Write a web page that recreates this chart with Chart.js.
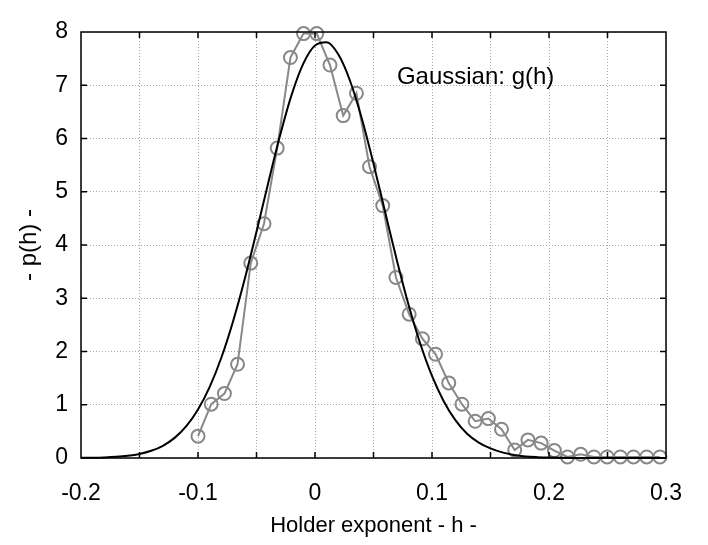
<!DOCTYPE html>
<html><head><meta charset="utf-8">
<script src="https://cdn.jsdelivr.net/npm/chart.js@4/dist/chart.umd.min.js"></script>
<style>html,body{margin:0;padding:0;background:#fff}#wrap{width:708px;height:545px;position:relative}</style>
</head><body><div id="wrap"><canvas id="c"></canvas></div>
<script>
// Empirical histogram p(h)
const hValues = [-0.1000,-0.0887,-0.0774,-0.0662,-0.0549,-0.0436,-0.0323,-0.0210,-0.0098,0.0015,
  0.0128,0.0241,0.0354,0.0466,0.0579,0.0692,0.0805,0.0918,0.1030,0.1143,
  0.1256,0.1369,0.1482,0.1594,0.1707,0.1820,0.1933,0.2046,0.2158,0.2271,
  0.2384,0.2497,0.2610,0.2722,0.2835,0.2948];
const pValues = [0.41,1.01,1.21,1.76,3.66,4.40,5.82,7.52,7.97,7.97,
  7.38,6.43,6.85,5.47,4.74,3.39,2.70,2.24,1.95,1.41,
  1.01,0.69,0.74,0.54,0.15,0.34,0.28,0.14,0.02,0.07,
  0.02,0.02,0.02,0.02,0.02,0.02];
// Gaussian curve g(h)
const gaussH = [-0.20,-0.19,-0.18,-0.17,-0.16,-0.15,-0.14,-0.13,-0.12,-0.11,
  -0.10,-0.09,-0.08,-0.07,-0.06,-0.05,-0.04,-0.03,-0.02,-0.01,
  0.00,0.01,0.02,0.03,0.04,0.05,0.06,0.07,0.08,0.09,
  0.10,0.11,0.12,0.13,0.14,0.15,0.16,0.17,0.18,0.19,
  0.20,0.21,0.22,0.23,0.24,0.25,0.26,0.27,0.28,0.29,0.30];
const gaussG = [0.003,0.005,0.011,0.022,0.042,0.076,0.135,0.230,0.378,0.598,
  0.911,1.336,1.887,2.569,3.366,4.249,5.165,6.047,6.820,7.407,
  7.748,7.807,7.576,7.080,6.374,5.527,4.614,3.711,2.875,2.145,
  1.541,1.067,0.711,0.456,0.290,0.180,0.105,0.058,0.030,0.016,
  0.008,0.003,0.001,0.001,0,0,0,0,0,0,0];
const xLabels = [-0.2,-0.1,0,0.1,0.2,0.3];
const yLabels = [0,1,2,3,4,5,6,7,8];
const annotationText = 'Gaussian: g(h)';
const xTitle = 'Holder exponent - h -';
const yTitle = '- p(h) -';

const FONT = "'Liberation Sans', Arial, Helvetica, sans-serif";
Chart.defaults.color = '#000';
Chart.defaults.font.family = FONT;

const framePlugin = {
  id: 'frame',
  afterDraw(chart) {
    const {ctx, chartArea: a, scales} = chart;
    ctx.save();
    ctx.strokeStyle = '#000';
    ctx.lineWidth = 1.5;
    ctx.setLineDash([]);
    const tl = 6;
    ctx.beginPath();
    scales.x.ticks.forEach(t => {
      const px = scales.x.getPixelForValue(t.value);
      if (px <= a.left + 1 || px >= a.right - 1) return;
      ctx.moveTo(px, a.bottom); ctx.lineTo(px, a.bottom - tl);
      ctx.moveTo(px, a.top); ctx.lineTo(px, a.top + tl);
    });
    scales.y.ticks.forEach(t => {
      const py = scales.y.getPixelForValue(t.value);
      if (py <= a.top + 1 || py >= a.bottom - 1) return;
      ctx.moveTo(a.left, py); ctx.lineTo(a.left + tl, py);
      ctx.moveTo(a.right, py); ctx.lineTo(a.right - tl, py);
    });
    ctx.stroke();
    ctx.strokeRect(a.left, a.top, a.right - a.left, a.bottom - a.top);
    // annotation
    ctx.fillStyle = '#000';
    ctx.font = '24px ' + FONT;
    ctx.textAlign = 'left';
    ctx.textBaseline = 'middle';
    ctx.fillText(annotationText, scales.x.getPixelForValue(0.07), scales.y.getPixelForValue(7.14));
    ctx.restore();
  }
};

new Chart(document.getElementById('c'), {
  type: 'scatter',
  data: {
    datasets: [
      {
        label: 'g(h)',
        data: gaussH.map((h, i) => ({x: h, y: gaussG[i]})),
        showLine: true,
        borderColor: '#000',
        borderWidth: 2,
        pointRadius: 0,
        cubicInterpolationMode: 'monotone',
        clip: false
      },
      {
        label: 'p(h)',
        data: hValues.map((h, i) => ({x: h, y: pValues[i]})),
        showLine: true,
        borderColor: '#888',
        borderWidth: 2,
        pointRadius: 6.5,
        pointBorderWidth: 2,
        pointBorderColor: '#888',
        pointBackgroundColor: 'rgba(0,0,0,0)',
        clip: false
      }
    ]
  },
  options: {
    responsive: true,
    maintainAspectRatio: false,
    animation: false,
    layout: {padding: {left: 0, right: 42, top: 32, bottom: 0}},
    plugins: {legend: {display: false}, tooltip: {enabled: false}},
    scales: {
      x: {
        type: 'linear', min: -0.2, max: 0.3,
        afterFit(s) { s.height = 87; },
        afterBuildTicks(s) {
          const arr = [];
          for (let k = 0; k <= 10; k++) arr.push({value: Math.round((-0.2 + k * 0.05) * 100) / 100});
          s.ticks = arr;
        },
        ticks: {
          font: {size: 23},
          padding: 22,
          maxRotation: 0,
          autoSkip: false,
          callback(v) {
            const r = Math.round(v * 100) / 100;
            return xLabels.some(l => Math.abs(l - r) < 1e-9) ? String(r) : '';
          }
        },
        grid: {color: '#aaaaaa', lineWidth: 1, drawTicks: false},
        border: {display: false, dash: [1, 2]},
        title: {display: true, text: xTitle, font: {size: 22}, padding: {top: 0, bottom: 6}}
      },
      y: {
        type: 'linear', min: 0, max: 8,
        afterFit(s) { s.width = 81; },
        afterBuildTicks(s) { s.ticks = yLabels.map(v => ({value: v})); },
        ticks: {font: {size: 23}, padding: 13, callback: v => String(v)},
        grid: {color: '#aaaaaa', lineWidth: 1, drawTicks: false},
        border: {display: false, dash: [1, 2]},
        title: {display: true, text: yTitle, font: {size: 24}, padding: {top: 15, bottom: 0}}
      }
    }
  },
  plugins: [framePlugin]
});
</script>
</body></html>
